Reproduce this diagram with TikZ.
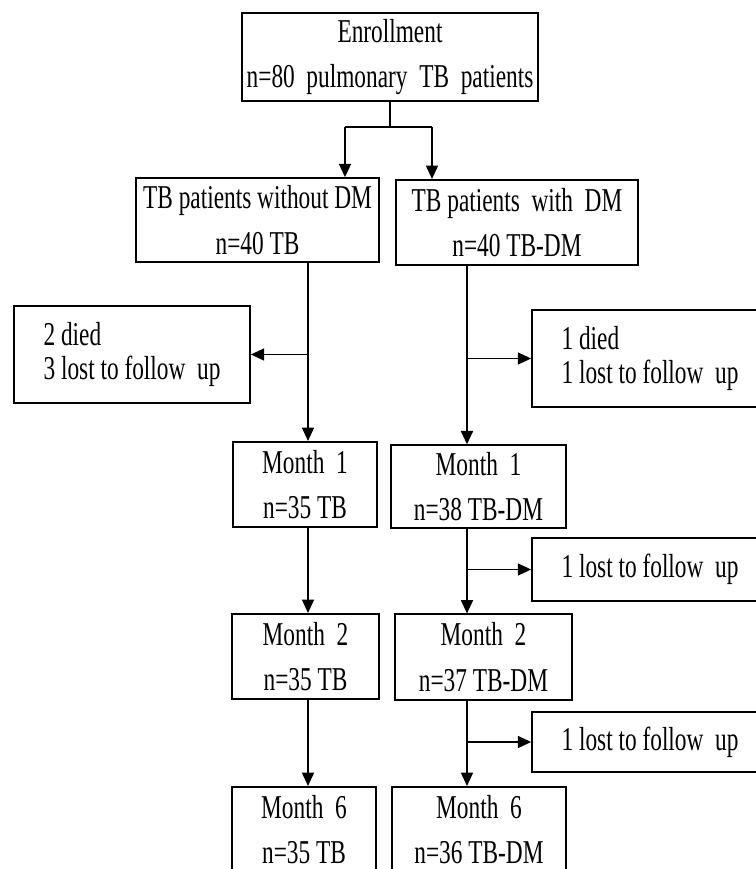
\documentclass[tikz,border=0pt]{standalone}
\usepackage{fontspec}
\setmainfont{Liberation Serif}[FakeStretch=0.7]
\usetikzlibrary{arrows.meta}

\begin{document}
\begin{tikzpicture}[x=0.75pt, y=-0.75pt, line width=1.3pt,
    box/.style={shape=rectangle, draw=black, align=center, inner sep=2pt,
        minimum height=64pt, font=\fontsize{25}{34}\selectfont},
    lossbox/.style={shape=rectangle, draw=black, align=left, inner sep=2pt,
        minimum width=177pt, minimum height=73pt, font=\fontsize{25}{26}\selectfont},
    arr/.style={-{Triangle[length=10pt,width=9pt]}}]

    \useasboundingbox (0,0) rectangle (756,869);
    \clip (0,0) rectangle (756,869);

        \node[box, minimum width=222pt, minimum height=66pt] (enroll) at (390,57) {Enrollment\\n=80~ pulmonary~ TB~ patients};

        \node[box, minimum width=182pt, minimum height=63pt] (wodm) at (257.5,220) {TB patients without DM\\n=40 TB};
        \node[box, minimum width=181.5pt] (wdm) at (517,222.5) {TB patients~ with~ DM\\n=40 TB-DM};

        \node[lossbox] (lossL) at (132,354.5) {2 died\\3 lost to follow~ up};
        \node[lossbox] (lossR) at (650,358.5) {1 died\\1 lost to follow~ up};

        \node[box, minimum width=108pt] (m1L) at (305,484.5) {Month~ 1\\n=35 TB};
        \node[box, minimum width=131pt, minimum height=62pt] (m1R) at (478.5,486.5) {Month~ 1\\n=38 TB-DM};
        \node[lossbox, minimum height=47pt] (loss1) at (650,569.5) {1 lost to follow~ up};

        \node[box, minimum width=110pt] (m2L) at (305.5,656.5) {Month~ 2\\n=35 TB};
        \node[box, minimum width=133pt] (m2R) at (483.5,657) {Month~ 2\\n=37 TB-DM};
        \node[lossbox, minimum height=45pt] (loss2) at (650,742) {1 lost to follow~ up};

        \node[box, minimum width=108pt] (m6L) at (304,829.5) {Month~ 6\\n=35 TB};
        \node[box, minimum width=130.5pt] (m6R) at (479,829.5) {Month~ 6\\n=36 TB-DM};

        \coordinate (split) at (390,127);
        \coordinate (tl) at (345,127);
        \coordinate (tr) at (432,127);
        \coordinate (lcol) at (308,0);
        \coordinate (rcol) at (467,0);

    \begin{scope}[every edge/.style={draw=black}]

        \draw (enroll.south) -- (split);
        \draw (tl) -- (tr);
        \draw [arr] (tl) -- (wodm.north -| tl);
        \draw [arr] (tr) -- (wdm.north -| tr);

        % without DM
        \draw [arr] (wodm.south -| lcol) -- (m1L.north -| lcol);
        \draw [arr] (lcol |- lossL.east) -- (lossL.east);
        \draw [arr] (m1L.south -| lcol) -- (m2L.north -| lcol);
        \draw [arr] (m2L.south -| lcol) -- (m6L.north -| lcol);

        % with DM
        \draw [arr] (wdm.south -| rcol) -- (m1R.north -| rcol);
        \draw [arr] (rcol |- lossR.west) -- (lossR.west);
        \draw [arr] (m1R.south -| rcol) -- (m2R.north -| rcol);
        \draw [arr] (rcol |- loss1.west) -- (loss1.west);
        \draw [arr] (m2R.south -| rcol) -- (m6R.north -| rcol);
        \draw [arr] (rcol |- loss2.west) -- (loss2.west);

    \end{scope}

\end{tikzpicture}
\end{document}
